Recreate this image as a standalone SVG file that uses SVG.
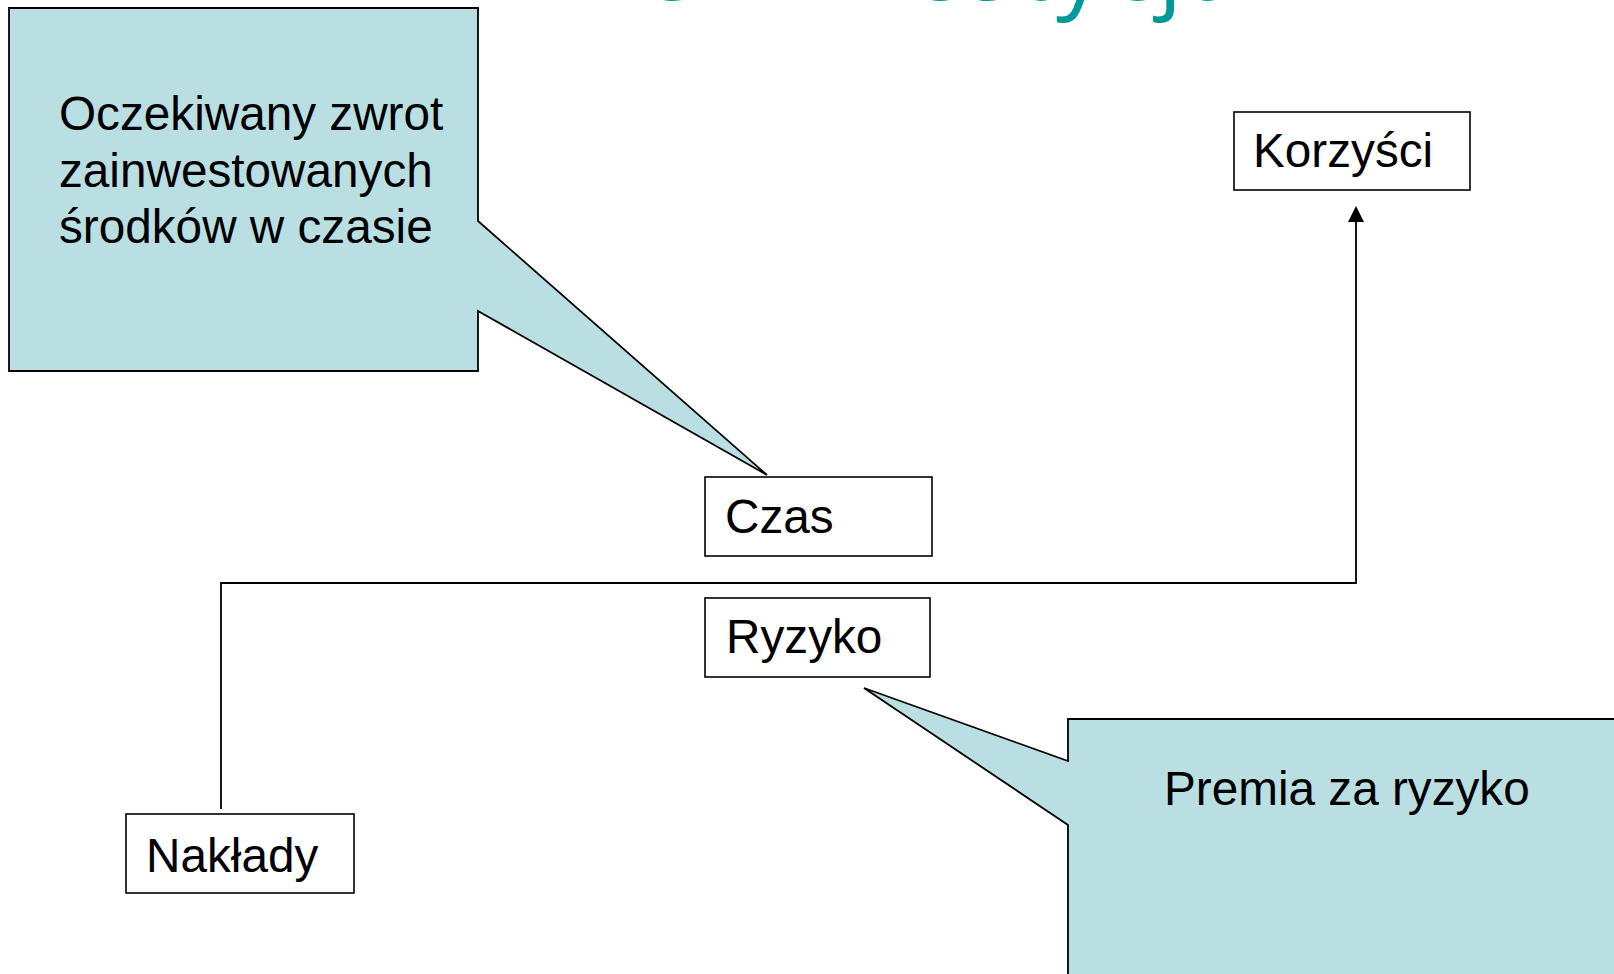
<svg xmlns="http://www.w3.org/2000/svg" width="1614" height="974" viewBox="0 0 1614 974">
  <defs>
    <style>
      .lbl { font-family: "Liberation Sans", Arial, sans-serif; font-size: 47.7px; fill: #000; }
      .box { fill: #fff; stroke: #000; stroke-width: 1.6; }
      .callout { fill: #BADFE2; stroke: #000; stroke-width: 1.8; stroke-linejoin: miter; }
      .conn { fill: none; stroke: #000; stroke-width: 1.8; }
      .title { font-family: "Open Sans", "DejaVu Sans", sans-serif; font-size: 95px; fill: #009999; }
    </style>
    <marker id="arrow" markerWidth="16" markerHeight="16" refX="4" refY="8" orient="auto" markerUnits="userSpaceOnUse">
      <path d="M0,0 L16,8 L0,16 z" fill="#000"/>
    </marker>
  </defs>
  <rect x="0" y="0" width="1614" height="974" fill="#fff"/>

  <g id="title">
    <text class="title" y="0"><tspan x="603">re</tspan><tspan x="740" letter-spacing="4.6">inwestycja</tspan></text>
  </g>

  <g id="connectors">
    <polyline class="conn" points="221,809 221,583 1356,583 1356,218" marker-end="url(#arrow)"/>
  </g>

  <g id="callout-zwrot">
    <polygon class="callout" points="9,8 478,8 478,221 767,475 478,311 478,371 9,371"/>
    <text class="lbl" x="59" y="130">Oczekiwany zwrot</text>
    <text class="lbl" x="59" y="187">zainwestowanych</text>
    <text class="lbl" x="59" y="243">środków w czasie</text>
  </g>

  <g id="callout-premia">
    <polygon class="callout" points="1068,719 1620,719 1620,980 1068,980 1068,825 864,688 1068,761"/>
    <text class="lbl" x="1164" y="805">Premia za ryzyko</text>
  </g>

  <g id="node-korzysci">
    <rect class="box" x="1234" y="112" width="236" height="78"/>
    <text class="lbl" x="1253" y="167">Korzyści</text>
  </g>

  <g id="node-czas">
    <rect class="box" x="705" y="477" width="227" height="79"/>
    <text class="lbl" x="725" y="533">Czas</text>
  </g>

  <g id="node-ryzyko">
    <rect class="box" x="705" y="598" width="225" height="79"/>
    <text class="lbl" x="726" y="653">Ryzyko</text>
  </g>

  <g id="node-naklady">
    <rect class="box" x="126" y="814" width="228" height="79"/>
    <text class="lbl" x="146" y="872">Nakłady</text>
  </g>
</svg>
